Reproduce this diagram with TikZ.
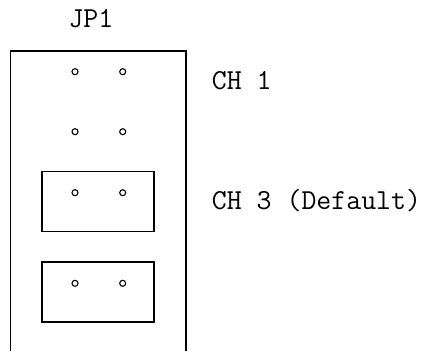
\documentclass[tikz,border=0pt]{standalone}
\usepackage{fontspec}
\usepackage{tikz}
\usetikzlibrary{positioning}
\tikzstyle{pin} = [circle, draw, line width=1.1pt, minimum size=6pt, inner sep=0pt]
\tikzstyle{jumper} = [rectangle, draw, line width=1.5pt, minimum width=112pt, minimum height=60pt, inner sep=0pt]
\tikzstyle{chtext} = [anchor=base west, inner sep=0pt, font=\ttfamily\fontsize{29}{30}\selectfont]

\begin{document}
\begin{tikzpicture}[x=1pt, y=-1pt, node distance=47.7pt]
\useasboundingbox (0,0) rectangle (430,351);
% Header
\node (jp) [chtext] at (68.3,27.3) {JP1};

% Frame
\draw[line width=1.5pt] (10.7,351) -- (10.7,51) -- (186,51) -- (186,351);

% Jumper caps
\node (cap3) [jumper] at (98,201.7) {};
\node (cap4) [jumper] at (98,292.2) {};

% Pins
\node (p1a) [pin] at (75,71.7) {};
\node (p1b) [pin, right of=p1a] {};
\node (p2a) [pin] at (75,131.7) {};
\node (p2b) [pin, right of=p2a] {};
\node (p3a) [pin] at (75,192.7) {};
\node (p3b) [pin, right of=p3a] {};
\node (p4a) [pin] at (75,283.3) {};
\node (p4b) [pin, right of=p4a] {};

% Channel labels
\node (ch1) [chtext] at (211.7,89) {CH 1};
\node (ch3) [chtext] at (211.7,209.3) {CH 3 (Default)};
\end{tikzpicture}
\end{document}
